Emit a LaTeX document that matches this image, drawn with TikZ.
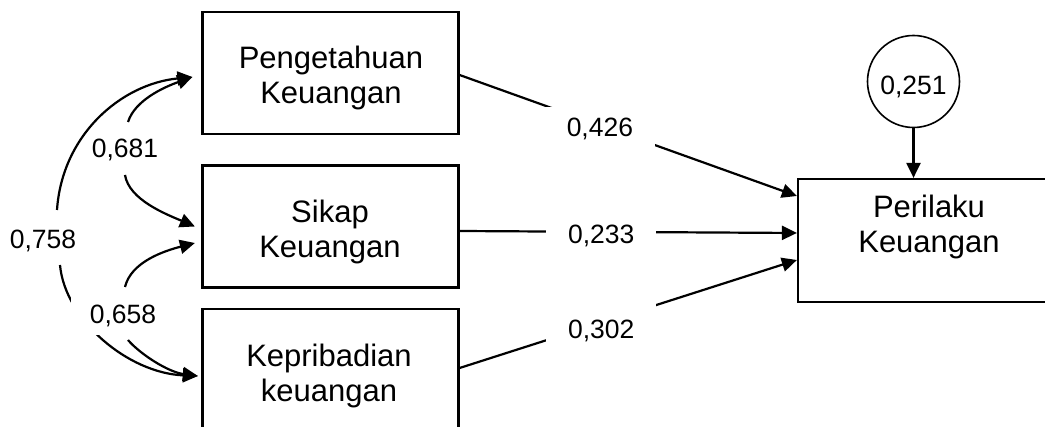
\documentclass[tikz,border=0pt]{standalone}
\usepackage{fontspec}
\setmainfont{Liberation Sans}
\usetikzlibrary{arrows.meta,calc}
\begin{document}
\begin{tikzpicture}[x=1pt,y=-1pt,
  box/.style={draw,line width=2.2pt,minimum width=256pt,minimum height=122pt,inner sep=0pt},
  btxt/.style={align=center,inner sep=0pt,font=\fontsize{31}{35}\selectfont},
  num/.style={font=\fontsize{26.5}{31}\selectfont,inner sep=0pt,text height=19pt,text depth=0pt},
  cut/.style={num,fill=white,inner xsep=22pt,minimum height=40pt},
  arr/.style={line width=2.2pt,-{Triangle[length=15pt,width=14pt]}}]
\useasboundingbox (0,0) rectangle (1045,427);
\clip (0,0) rectangle (1045,427);

% boxes
\node[box] (b1) at (330.5,73) {};
\node[box] (b2) at (330.5,226.5) {};
\node[box] (b3) at (330.5,370) {};
\node[box,minimum width=262pt,minimum height=123pt] (b4) at (929,240.5) {};
\node[btxt] (t1) at (331,78) {Pengetahuan\\Keuangan};
\node[btxt] (t2) at (330,231.5) {Sikap\\Keuangan};
\node[btxt] (t3) at (329,376) {Kepribadian\\keuangan};
\node[btxt] (t4) at (929,226.5) {Perilaku\\Keuangan};

% error term
\node[num,draw,circle,line width=1.6pt,minimum size=92pt,text height=26pt] (e) at (913.5,81.5) {0,251};
\draw[arr] (e) -- (e |- b4.north);

% arrow tips at the left boxes
\coordinate (a1) at ($(b1.west)+(-9,4)$);
\coordinate (a2) at ($(b2.west)+(-6.5,0)$);
\coordinate (a2b) at ($(b2.west)+(-6.5,16.5)$);
\coordinate (a3) at ($(b3.west)+(-3.5,6)$);
% ends of the gaps round the labels
\coordinate (g681a) at (128,122);
\coordinate (g681b) at (125,175);
\coordinate (g658a) at (125,287);
\coordinate (g658b) at (128,340);
\coordinate (g758a) at (57,210);
\coordinate (g758b) at (60,265);

% correlations
\draw[arr] (g681a) .. controls +(7,-22) and +(-28,10) .. (a1);
\draw[arr] (g681b) .. controls +(4,25) and +(-28,-12) .. (a2);
\draw[arr] (g658a) .. controls +(6,-25) and +(-31,8) .. (a2b);
\draw[arr] (g658b) .. controls +(12,14) and +(-30,-4) .. (a3);
\draw[arr] (g758a) .. controls +(5,-75) and +(-71.5,7) .. (a1);
\draw[arr] (g758b) .. controls +(5,55) and +(-70,-3) .. (a3);

\node[num] (l681) at (125,148) {0,681};
\node[num] (l758) at (43,239) {0,758};
\node[num,fill=white,inner xsep=19pt,minimum height=43pt] (l658) at (123,314) {0,658};

% paths
\draw[arr] ($(b1.east)+(0,2)$) -- node[cut,pos=0.416,yshift=-2pt] (l426) {0,426} ($(b4.west)+(0,-44.5)$);
\draw[arr] ($(b2.east)+(0,4.5)$) -- node[cut,pos=0.42,yshift=-2.5pt] (l233) {0,233} ($(b4.west)+(0,-7.5)$);
\draw[arr] ($(b3.east)+(0,-2)$) -- node[cut,pos=0.42,yshift=-6.5pt,minimum height=54pt] (l302) {0,302} ($(b4.west)+(0,19.5)$);
\end{tikzpicture}
\end{document}
